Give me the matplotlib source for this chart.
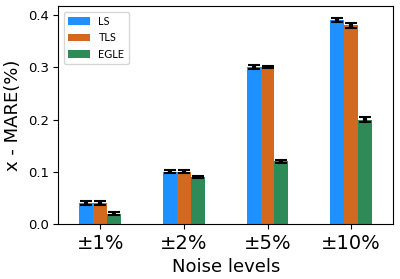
import numpy as np
import matplotlib
matplotlib.use("Agg")
import matplotlib.pyplot as plt

levels = ['±1%', '±2%', '±5%', '±10%']
ls_vals = [0.040, 0.100, 0.300, 0.390]
tls_vals = [0.040, 0.100, 0.300, 0.380]
egle_vals = [0.020, 0.090, 0.120, 0.200]
ls_err = [0.004, 0.003, 0.004, 0.004]
tls_err = [0.004, 0.003, 0.002, 0.004]
egle_err = [0.003, 0.002, 0.003, 0.005]

x = np.arange(len(levels))
w = 1 / 6

fig = plt.figure(figsize=(4, 2.79), dpi=100)
ax = fig.add_axes([0.146, 0.197, 0.8365, 0.781])

err_kw = dict(ecolor='black', elinewidth=3, capsize=4.5, capthick=1.5)
ax.bar(x - w, ls_vals, w, yerr=ls_err, color='#1E90FF', label='LS', error_kw=err_kw)
ax.bar(x, tls_vals, w, yerr=tls_err, color='#D2691E', label='TLS', error_kw=err_kw)
ax.bar(x + w, egle_vals, w, yerr=egle_err, color='#2E8B57', label='EGLE', error_kw=err_kw)

ax.set_xlim(-0.5, 3.5)
ax.set_ylim(0, 0.417)
ax.set_xticks(x)
ax.set_xticklabels(levels, fontsize=14)
ax.set_yticks([0.0, 0.1, 0.2, 0.3, 0.4])
ax.tick_params(axis='y', labelsize=9.5)
ax.set_xlabel('Noise levels', fontsize=13)
ax.set_ylabel('x - MARE(%)', fontsize=13)
ax.legend(loc='upper left', prop={'family': 'Lato', 'size': 7.8})

fig.savefig('out.png', dpi=100)
